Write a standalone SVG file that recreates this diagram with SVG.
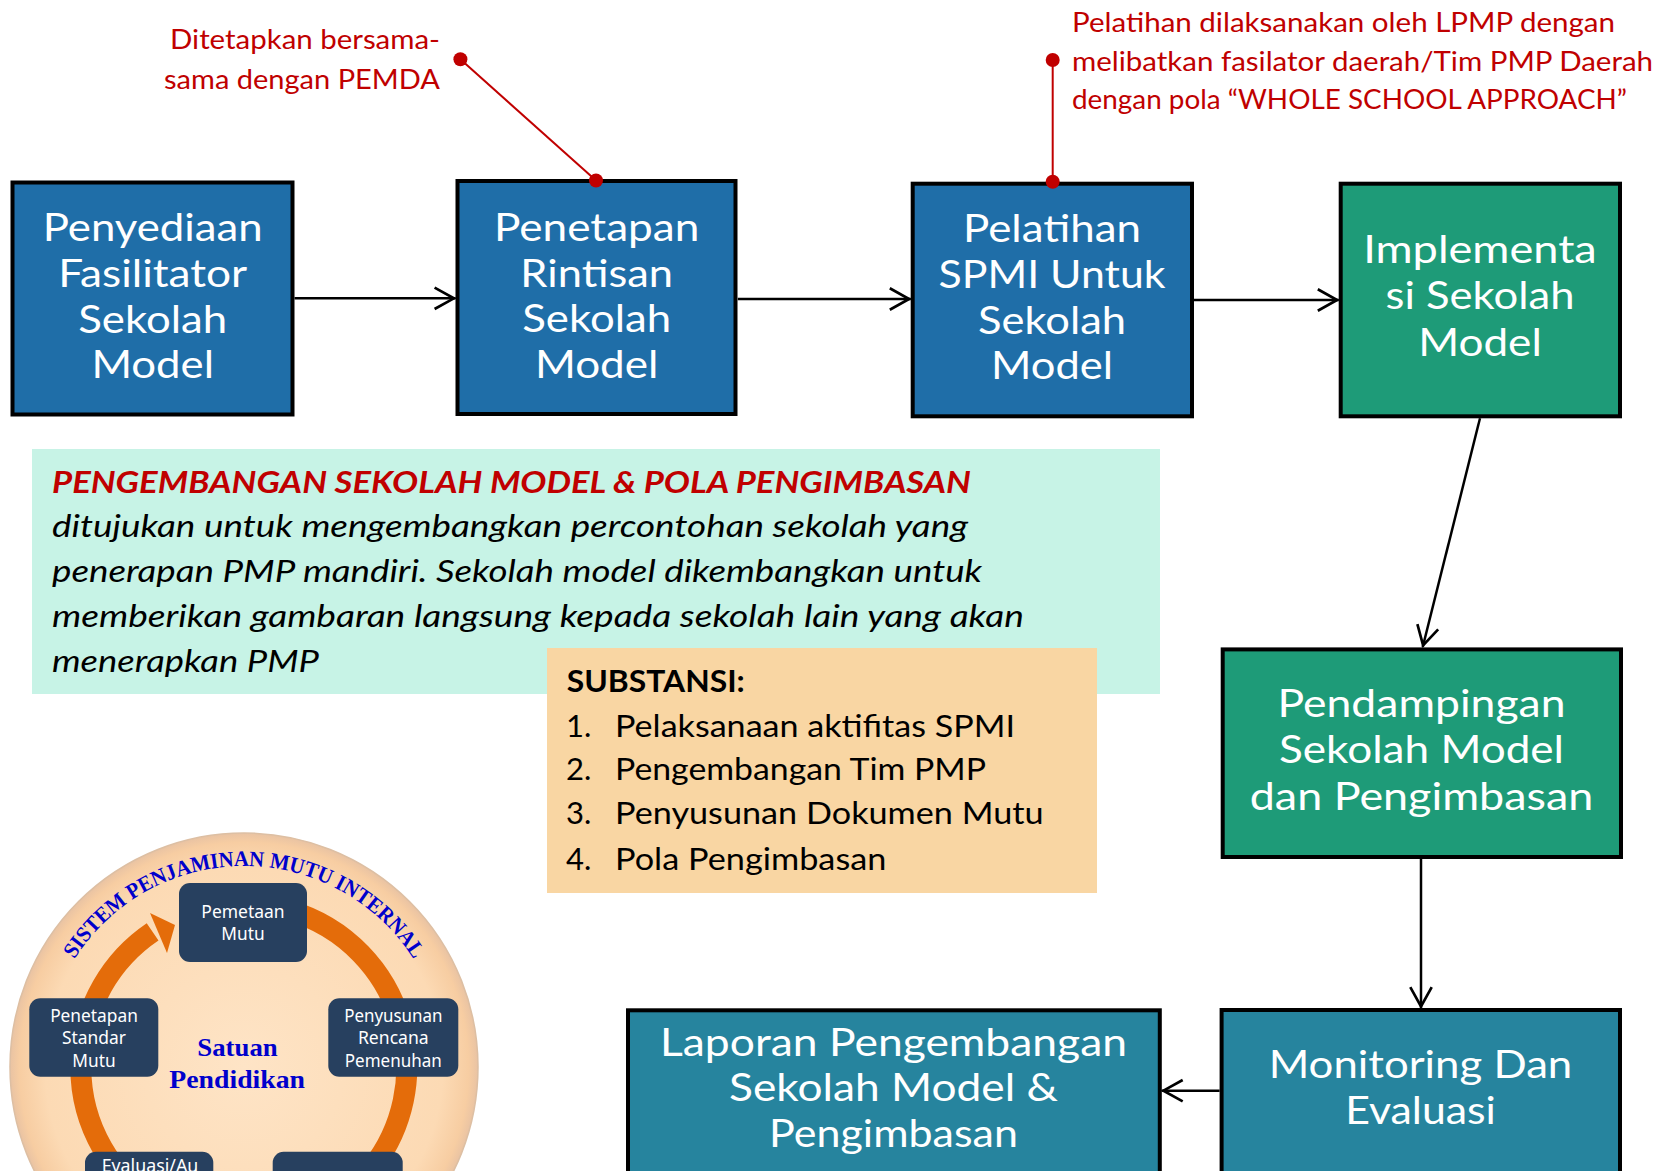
<svg xmlns="http://www.w3.org/2000/svg" width="1660" height="1171" viewBox="0 0 1660 1171">
<style>
.box{stroke:#000;stroke-width:4}
.blue{fill:#1F6EA8}
.green{fill:#1E9B78}
.teal{fill:#26849E}
.bt{font-family:Lato,"Liberation Sans",sans-serif;font-size:39.5px;fill:#fff;text-anchor:middle}
.red{font-family:Lato,"Liberation Sans",sans-serif;font-size:26px;fill:#C00000}
.body{font-family:Lato,"Liberation Sans",sans-serif;font-size:31px;font-style:italic;fill:#000}
.title{font-family:Lato,"Liberation Sans",sans-serif;font-size:30.5px;font-style:italic;font-weight:bold;fill:#C00000}
.sub{font-family:Lato,"Liberation Sans",sans-serif;font-size:31px;fill:#000}
.conn{stroke:#000;stroke-width:2.5;fill:none;marker-end:url(#arr)}
.rl{stroke:#C00000;stroke-width:2;fill:none}
.sb{fill:#27405F}
.st{font-family:"Noto Sans","DejaVu Sans",sans-serif;font-size:17.5px;fill:#fff;text-anchor:middle}
.ser{font-family:"Liberation Serif",serif;font-weight:bold;fill:#0000CC}
</style>
<defs>
<marker id="arr" markerUnits="userSpaceOnUse" markerWidth="30" markerHeight="30" refX="1.5" refY="0" viewBox="-22 -14 26 28" orient="auto">
<path d="M-18,-10 L0,0 L-18,10" fill="none" stroke="#000" stroke-width="2.5"/>
</marker>
<radialGradient id="peach" cx="0.5" cy="0.5" r="0.5">
<stop offset="0" stop-color="#FEE4C6"/>
<stop offset="0.85" stop-color="#FCDAB4"/>
<stop offset="0.96" stop-color="#F7CDA2"/>
<stop offset="1" stop-color="#E9C3A3"/>
</radialGradient>
<path id="arcText" d="M55.1,998.3 A201,201 0 0 1 432.9,998.3"/>
</defs>
<rect width="1660" height="1171" fill="#fff"/>

<g id="annotation-pemda">
<text class="red" x="170" y="49.3" textLength="270" lengthAdjust="spacingAndGlyphs">Ditetapkan bersama-</text>
<text class="red" x="164" y="89.3" textLength="276" lengthAdjust="spacingAndGlyphs">sama dengan PEMDA</text>
</g>
<g id="annotation-lpmp">
<text class="red" x="1072" y="31.7" textLength="543" lengthAdjust="spacingAndGlyphs">Pelatihan dilaksanakan oleh LPMP dengan</text>
<text class="red" x="1072" y="70.7" textLength="581" lengthAdjust="spacingAndGlyphs">melibatkan fasilator daerah/Tim PMP Daerah</text>
<text class="red" x="1072" y="109" textLength="555" lengthAdjust="spacingAndGlyphs">dengan pola “WHOLE SCHOOL APPROACH”</text>
</g>

<g id="box1">
<rect class="box blue" x="12.5" y="182.5" width="280" height="232"/>
<text class="bt" x="152.7" y="241" textLength="220" lengthAdjust="spacingAndGlyphs">Penyediaan</text>
<text class="bt" x="152.7" y="286.7" textLength="189" lengthAdjust="spacingAndGlyphs">Fasilitator</text>
<text class="bt" x="152.7" y="332.7" textLength="149" lengthAdjust="spacingAndGlyphs">Sekolah</text>
<text class="bt" x="152.7" y="378.3" textLength="122.6" lengthAdjust="spacingAndGlyphs">Model</text>
</g>
<g id="box2">
<rect class="box blue" x="457.5" y="181" width="278" height="233"/>
<text class="bt" x="596.7" y="240.5" textLength="205.5" lengthAdjust="spacingAndGlyphs">Penetapan</text>
<text class="bt" x="596.7" y="286.5" textLength="152.7" lengthAdjust="spacingAndGlyphs">Rintisan</text>
<text class="bt" x="596.7" y="332.2" textLength="149" lengthAdjust="spacingAndGlyphs">Sekolah</text>
<text class="bt" x="596.7" y="377.8" textLength="123.6" lengthAdjust="spacingAndGlyphs">Model</text>
</g>
<g id="box3">
<rect class="box blue" x="912.7" y="183.7" width="279.3" height="232.6"/>
<text class="bt" x="1052" y="242" textLength="178" lengthAdjust="spacingAndGlyphs">Pelatihan</text>
<text class="bt" x="1052" y="287.5" textLength="227" lengthAdjust="spacingAndGlyphs">SPMI Untuk</text>
<text class="bt" x="1052" y="333.5" textLength="148" lengthAdjust="spacingAndGlyphs">Sekolah</text>
<text class="bt" x="1052" y="379.3" textLength="122" lengthAdjust="spacingAndGlyphs">Model</text>
</g>
<g id="box4">
<rect class="box green" x="1340.7" y="183.7" width="279.3" height="232.6"/>
<text class="bt" x="1480" y="263.3" textLength="233.6" lengthAdjust="spacingAndGlyphs">Implementa</text>
<text class="bt" x="1480" y="309.3" textLength="189" lengthAdjust="spacingAndGlyphs">si Sekolah</text>
<text class="bt" x="1480" y="355.7" textLength="123.6" lengthAdjust="spacingAndGlyphs">Model</text>
</g>
<g id="box5">
<rect class="box green" x="1222.7" y="649.4" width="398.3" height="207.6"/>
<text class="bt" x="1421.5" y="716.6" textLength="288" lengthAdjust="spacingAndGlyphs">Pendampingan</text>
<text class="bt" x="1421.5" y="763.4" textLength="285" lengthAdjust="spacingAndGlyphs">Sekolah Model</text>
<text class="bt" x="1421.5" y="809.7" textLength="343.5" lengthAdjust="spacingAndGlyphs">dan Pengimbasan</text>
</g>
<g id="box6">
<rect class="box teal" x="1221.6" y="1010" width="398.4" height="200"/>
<text class="bt" x="1420.5" y="1078" textLength="303.6" lengthAdjust="spacingAndGlyphs">Monitoring Dan</text>
<text class="bt" x="1420.5" y="1124" textLength="150.7" lengthAdjust="spacingAndGlyphs">Evaluasi</text>
</g>
<g id="box7">
<rect class="box teal" x="628" y="1010.3" width="531.8" height="200"/>
<text class="bt" x="893.5" y="1055.5" textLength="467" lengthAdjust="spacingAndGlyphs">Laporan Pengembangan</text>
<text class="bt" x="893.5" y="1101" textLength="329" lengthAdjust="spacingAndGlyphs">Sekolah Model &amp;</text>
<text class="bt" x="893.5" y="1146.5" textLength="248.8" lengthAdjust="spacingAndGlyphs">Pengimbasan</text>
</g>

<g id="description">
<rect x="32" y="449" width="1128" height="245" fill="#C7F3E6"/>
<text class="title" x="52" y="493.3" textLength="919" lengthAdjust="spacingAndGlyphs">PENGEMBANGAN SEKOLAH MODEL &amp; POLA PENGIMBASAN</text>
<text class="body" x="52" y="536.7" textLength="916" lengthAdjust="spacingAndGlyphs">ditujukan untuk mengembangkan percontohan sekolah yang</text>
<text class="body" x="52" y="581.7" textLength="930" lengthAdjust="spacingAndGlyphs">penerapan PMP mandiri. Sekolah model dikembangkan untuk</text>
<text class="body" x="52" y="626.7" textLength="972" lengthAdjust="spacingAndGlyphs">memberikan gambaran langsung kepada sekolah lain yang akan</text>
<text class="body" x="52" y="671.7" textLength="267" lengthAdjust="spacingAndGlyphs">menerapkan PMP</text>
</g>

<g id="substansi">
<rect x="547" y="648" width="550" height="245" fill="#F9D6A3"/>
<text class="sub" x="566.8" y="691.7" font-weight="bold" textLength="178" lengthAdjust="spacingAndGlyphs">SUBSTANSI:</text>
<text class="sub" x="566" y="736.7">1.</text>
<text class="sub" x="615" y="736.7" textLength="400" lengthAdjust="spacingAndGlyphs">Pelaksanaan aktifitas SPMI</text>
<text class="sub" x="566" y="780">2.</text>
<text class="sub" x="615" y="780" textLength="371" lengthAdjust="spacingAndGlyphs">Pengembangan Tim PMP</text>
<text class="sub" x="566" y="824.3">3.</text>
<text class="sub" x="615" y="824.3" textLength="428.6" lengthAdjust="spacingAndGlyphs">Penyusunan Dokumen Mutu</text>
<text class="sub" x="566" y="870">4.</text>
<text class="sub" x="615" y="870" textLength="271.4" lengthAdjust="spacingAndGlyphs">Pola Pengimbasan</text>
</g>

<g id="spmi-cycle">
<circle cx="244" cy="1067" r="234" fill="url(#peach)" stroke="#DDBFA3" stroke-width="1.5"/>
<path d="M152.6,931.9 A163,163 0 1 0 215.4,906.5" fill="none" stroke="#E46C0A" stroke-width="21"/>
<polygon points="150,913 175,925 167,953" fill="#E46C0A"/>
<text class="ser" font-size="22"><textPath href="#arcText" startOffset="50%" text-anchor="middle" textLength="404" lengthAdjust="spacingAndGlyphs">SISTEM PENJAMINAN MUTU INTERNAL</textPath></text>
<g id="pemetaan-mutu">
<rect class="sb" x="179" y="883" width="128" height="79" rx="11"/>
<text class="st" x="243" y="917.7" textLength="83.3" lengthAdjust="spacingAndGlyphs">Pemetaan</text>
<text class="st" x="243" y="940" textLength="43.3" lengthAdjust="spacingAndGlyphs">Mutu</text>
</g>
<g id="penetapan-standar">
<rect class="sb" x="29.3" y="998.3" width="129" height="78.4" rx="11"/>
<text class="st" x="94" y="1021.7" textLength="87.7" lengthAdjust="spacingAndGlyphs">Penetapan</text>
<text class="st" x="94" y="1044" textLength="64" lengthAdjust="spacingAndGlyphs">Standar</text>
<text class="st" x="94" y="1066.7" textLength="43.3" lengthAdjust="spacingAndGlyphs">Mutu</text>
</g>
<g id="penyusunan-rencana">
<rect class="sb" x="328.3" y="998.3" width="130" height="78.4" rx="11"/>
<text class="st" x="393.3" y="1021.7" textLength="98.3" lengthAdjust="spacingAndGlyphs">Penyusunan</text>
<text class="st" x="393.3" y="1044" textLength="70.7" lengthAdjust="spacingAndGlyphs">Rencana</text>
<text class="st" x="393.3" y="1066.7" textLength="97" lengthAdjust="spacingAndGlyphs">Pemenuhan</text>
</g>
<g id="evaluasi-audit">
<rect class="sb" x="85" y="1151.7" width="128.3" height="80" rx="11"/>
<text class="st" x="150" y="1172" textLength="96.6" lengthAdjust="spacingAndGlyphs">Evaluasi/Au</text>
</g>
<g id="cycle-box-5">
<rect class="sb" x="272.7" y="1151.7" width="130" height="80" rx="11"/>
</g>
<text class="ser" font-size="26" x="237.5" y="1055.7" text-anchor="middle" textLength="80.3" lengthAdjust="spacingAndGlyphs">Satuan</text>
<text class="ser" font-size="26" x="237.2" y="1087.7" text-anchor="middle" textLength="135.7" lengthAdjust="spacingAndGlyphs">Pendidikan</text>
</g>

<g id="connectors">
<line class="conn" x1="294.5" y1="298.3" x2="455.5" y2="298.3"/>
<line class="conn" x1="737.8" y1="299" x2="910.7" y2="299"/>
<line class="conn" x1="1194" y1="300" x2="1338.7" y2="300"/>
<line class="conn" x1="1480" y1="418.3" x2="1422.7" y2="647"/>
<line class="conn" x1="1421" y1="859" x2="1421" y2="1008"/>
<line class="conn" x1="1219.6" y1="1090.7" x2="1161.8" y2="1090.7"/>
<line class="rl" x1="460.4" y1="59.3" x2="596" y2="180.5"/>
<circle cx="460.4" cy="59.3" r="7" fill="#C00000"/>
<circle cx="596" cy="180.5" r="7" fill="#C00000"/>
<line class="rl" x1="1052.7" y1="60" x2="1052.7" y2="181.7"/>
<circle cx="1052.7" cy="60" r="7" fill="#C00000"/>
<circle cx="1052.7" cy="181.7" r="7" fill="#C00000"/>
</g>
</svg>
